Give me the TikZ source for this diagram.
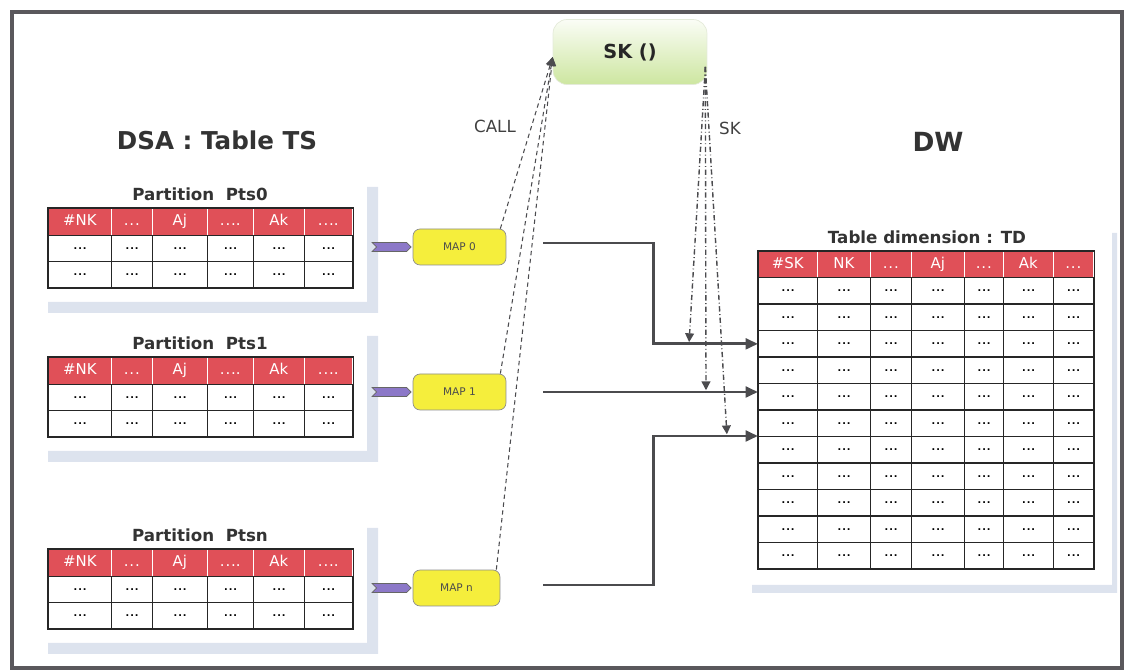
\documentclass[tikz,border=0pt]{standalone}
\usepackage{fontspec}
\setmainfont{DejaVu Sans}
\usepackage{tikz}
\usetikzlibrary{arrows.meta,positioning,calc,shapes.symbols}
\definecolor{hdred}{RGB}{224,80,88}
\definecolor{mapyel}{RGB}{245,238,60}
\definecolor{tagvio}{RGB}{140,120,200}
\definecolor{shadowblue}{RGB}{221,227,238}
\definecolor{flowgray}{RGB}{75,75,78}
\definecolor{framegray}{RGB}{90,88,92}
\definecolor{skgreen}{RGB}{205,230,160}
\newcommand{\celldots}{.\kern0.5pt.\kern0.5pt.}

\begin{document}
\begin{tikzpicture}[
  x=0.02cm,y=-0.02cm,
  hcell/.style={draw=white,line width=0.4pt,fill=hdred,text=white,inner sep=0pt,anchor=north west,text height=6.2pt,text depth=1.6pt,font=\fontsize{8.5}{9}\selectfont},
  bcell/.style={draw=black!85,line width=0.7pt,fill=white,inner sep=0pt,anchor=north west,font=\fontsize{5.5}{6}\selectfont\bfseries},
  ttl/.style={font=\fontsize{9.5}{11}\selectfont\bfseries,text=black!80},
  lbl/.style={font=\fontsize{9.5}{11}\selectfont,text=black!75},
  mapbox/.style={draw=black!45,fill=mapyel,rounded corners=4pt,minimum height=0.72cm,inner sep=0pt,font=\fontsize{6}{7}\selectfont,text=black!70},
  skbox/.style={draw=skgreen!80!black!30,top color=white!90!skgreen,bottom color=skgreen,rounded corners=8pt,minimum width=3.08cm,minimum height=1.3cm,font=\fontsize{11}{13}\selectfont\bfseries,text=black!85},
  tag/.style={signal,signal from=west,signal to=east,draw=black!60,fill=tagvio,minimum width=0.78cm,minimum height=0.18cm,inner sep=0pt},
  flow/.style={draw=flowgray,line width=1.7pt,-{Triangle[length=7pt,width=6pt]}},
  call/.style={draw=flowgray,line width=0.6pt,dash pattern=on 2.5pt off 2pt,-{Triangle[length=5pt,width=5pt]}},
  skdash/.style={draw=flowgray,line width=0.8pt,dash pattern=on 3pt off 1.5pt on 0.5pt off 1.5pt,shorten >=1pt,-{Triangle[length=5pt,width=5pt]}}
]
\useasboundingbox (0,0) rectangle (1126,671);
\draw[framegray,line width=2.6pt] (12,12) rectangle (1122,668);

\node[font=\fontsize{14}{16}\selectfont\bfseries,text=black!80] (dsa) at (217,140) {DSA : Table TS};
\node[font=\fontsize{15}{17}\selectfont\bfseries,text=black!80] (dw) at (938,142) {DW};

% partitions of TS
\foreach \nm/\ty/\lab in {p0/208/Pts0,p1/357/Pts1,pn/549/Ptsn}{
  \fill[shadowblue] (367,\ty-21) -- (378,\ty-21) -- (378,\ty+105) -- (48,\ty+105) -- (48,\ty+94) -- (367,\ty+94) -- cycle;
  \node[ttl] (\nm-t) at (200,\ty-14) {Partition\ \ \lab};
  \foreach \xa/\xb/\hd [count=\i] in {48/111/\#NK,111/152/\celldots,152/207/Aj,207/253/\celldots.,253/304/Ak,304/352/\celldots.}{
    \node[hcell,minimum width={(\xb-\xa)*0.02cm},minimum height=27*0.02cm] (\nm-h\i) at (\xa,\ty) {\hd};
    \foreach \r in {1,2}
      \node[bcell,minimum width={(\xb-\xa)*0.02cm},minimum height=26*0.02cm] (\nm-r\r-c\i) at (\xa,\ty+1+26*\r) {\celldots};
  }
  \draw[black!85,line width=0.7pt] (\nm-h1.north west) rectangle (\nm-r2-c6.south east);
}

% table TD
\fill[shadowblue] (1112,233) -- (1117,233) -- (1117,593) -- (752,593) -- (752,585) -- (1112,585) -- cycle;
\node[ttl] (td-t) at (927,237) {Table dimension : TD};
\foreach \xa/\xb/\hd [count=\i] in {758/817/\#SK,817/870/NK,870/911/\celldots,911/964/Aj,964/1003/\celldots,1003/1053/Ak,1053/1093/\celldots}{
  \node[hcell,minimum width={(\xb-\xa)*0.02cm},minimum height=26*0.02cm] (td-h\i) at (\xa,251) {\hd};
  \foreach \r in {1,...,11}
    \node[bcell,minimum width={(\xb-\xa)*0.02cm},minimum height=26.5*0.02cm] (td-r\r-c\i) at (\xa,250.5+26.5*\r) {\celldots};
}
\draw[black!85,line width=0.7pt] (td-h1.north west) rectangle (td-r11-c7.south east);

% maps
\node[mapbox,minimum width=1.86cm] (map0) at (459.5,247) {MAP 0};
\node[mapbox,minimum width=1.86cm] (map1) at (459.5,392) {MAP 1};
\node[mapbox,minimum width=1.74cm] (mapn) at (456.5,588) {MAP n};
\node[tag,left=0.02cm of map0] (tag0) {};
\node[tag,left=0.02cm of map1] (tag1) {};
\node[tag,left=0.02cm of mapn] (tagn) {};

\node[skbox] (sk) at (630,52) {SK ()};
\node[lbl] (calllbl) at (495,126) {CALL};
\node[lbl] (sklbl) at (730,128) {SK};

\draw[call] ($(map0.north east)+(-6,0)$) -- ($(sk.west)+(0,5)$);
\draw[call] ($(map1.north east)+(-6,0)$) -- ($(sk.west)+(0,5)$);
\draw[call] ($(mapn.north east)+(-4,0)$) -- ($(sk.west)+(0,5)$);

\draw[flow] ($(map0.east)+(37,-4)$) -| ($(td-r3-c1.west)+(-105,0)$) -- (td-r3-c1.west);
\draw[flow] ($(map1.east)+(37,0)$) -- (td-r1-c1.west |- map1.east);
\draw[flow] ($(mapn.east)+(43,-3)$) -| ($(td-r7-c1.north west)+(-105,0)$) -- (td-r7-c1.north west);

\coordinate (skout) at ($(sk.south east)+(-2,-18)$);
\draw[skdash] (skout) -- ($(td-r3-c1.west)+(-69,0)$);
\draw[skdash] (skout) -- ($(td-r1-c1.west |- map1.east)+(-52,0)$);
\draw[skdash] (skout) -- ($(td-r7-c1.north west)+(-31,0)$);
\end{tikzpicture}
\end{document}
